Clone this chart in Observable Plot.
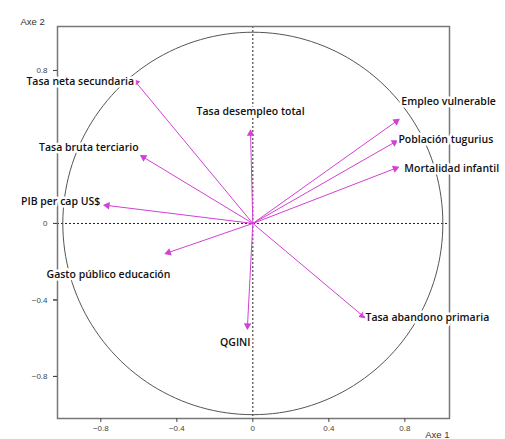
<!DOCTYPE html>
<html>
<head>
<meta charset="utf-8">
<script src="https://cdn.jsdelivr.net/npm/d3@7"></script>
<script src="https://cdn.jsdelivr.net/npm/@observablehq/plot@0.6"></script>
<style>
  html, body { margin: 0; padding: 0; background: #fff; }
  #chart svg { display: block; }
</style>
</head>
<body>
<div id="chart"></div>
<script>
// Variables (correlation circle, axes 1 and 2)
const variables = [
  "Tasa neta secundaria",
  "Tasa desempleo total",
  "Empleo vulnerable",
  "Población tugurius",
  "Mortalidad infantil",
  "Tasa bruta terciario",
  "PIB per cap US$",
  "Gasto público educación",
  "QGINI",
  "Tasa abandono primaria"
];
const axe1 = [-0.615, -0.012, 0.755, 0.745, 0.750, -0.575, -0.766, -0.444, -0.028, 0.577];
const axe2 = [ 0.738,  0.470, 0.534, 0.424, 0.288,  0.346,  0.094, -0.152, -0.534, -0.482];

const xTicks = [-0.8, -0.4, 0, 0.4, 0.8];
const yTicks = [-0.8, -0.4, 0, 0.4, 0.8];
// y tick labels that stay visible (0.4 is hidden under a variable label in the reference)
const yTickLabels = [-0.8, -0.4, 0, 0.8];
const tickLabel = d => d === 0 ? "0" : d3.format(".1f")(d);

// label placement (styles, not data)
const placement = [
  {anchor: "end",    dx: -2,  dy: -1},
  {anchor: "middle", dx: 0,   dy: -22},
  {anchor: "start",  dx: 5,   dy: -20},
  {anchor: "start",  dx: 4,   dy: -3},
  {anchor: "start",  dx: 9,   dy: 0},
  {anchor: "end",    dx: -5,  dy: -10},
  {anchor: "end",    dx: -7,  dy: -4},
  {anchor: "middle", dx: -60, dy: 22},
  {anchor: "end",    dx: 3,   dy: 17},
  {anchor: "start",  dx: 3,   dy: 2}
];

const idx = d3.range(variables.length);
const circle = d3.range(0, 361, 2).map(a => ({cx: Math.cos(a * Math.PI / 180), cy: Math.sin(a * Math.PI / 180)}));

const labelFont = "'Open Sans', 'DejaVu Sans', sans-serif";
const arrowColor = "#d43fd4";

const chart = Plot.plot({
  width: 505,
  height: 439,
  marginLeft: 57,
  marginRight: 56,
  marginTop: 26,
  marginBottom: 21,
  style: {background: "white", fontFamily: "'Liberation Sans', Arial, sans-serif", overflow: "visible"},
  x: {domain: [-1.028, 1.035]},
  y: {domain: [-1.02, 1.03]},
  marks: [
    Plot.ruleX([0], {stroke: "#222", strokeDasharray: "2,2", strokeWidth: 1}),
    Plot.ruleY([0], {stroke: "#222", strokeDasharray: "2,2", strokeWidth: 1}),
    Plot.line(circle, {x: "cx", y: "cy", stroke: "#555", strokeWidth: 1}),
    Plot.frame({stroke: "#777", strokeWidth: 1.5}),
    Plot.axisX({ticks: xTicks, tickFormat: tickLabel, tickSize: 4, tickPadding: 3, fontSize: 8, color: "#444", label: null}),
    Plot.axisY({ticks: yTicks, tickFormat: null, text: null, tickSize: 4, color: "#444", label: null}),
    Plot.axisY({ticks: yTickLabels, tickFormat: tickLabel, tickSize: 4, tickPadding: 6, fontSize: 8, color: "#444", label: null}),
    Plot.link(idx, {
      x1: () => 0, y1: () => 0,
      x2: i => axe1[i], y2: i => axe2[i],
      stroke: arrowColor, strokeWidth: 1
    }),
    Plot.dot(idx, {
      x: i => axe1[i], y: i => axe2[i],
      symbol: "triangle", r: 2.8, fill: arrowColor, stroke: "none",
      rotate: i => Math.atan2(axe1[i], axe2[i]) * 180 / Math.PI
    }),
    ...idx.map(i => Plot.text([i], {
      x: j => axe1[j], y: j => axe2[j], text: j => variables[j],
      textAnchor: placement[i].anchor, dx: placement[i].dx, dy: placement[i].dy,
      fontFamily: labelFont, fontSize: 10.5, fontWeight: 600, fill: "#111",
      stroke: "white", strokeWidth: 5
    })),
    Plot.text(["Axe 2"], {frameAnchor: "top-left", dx: -37, dy: -8, textAnchor: "start", fontSize: 9.5, fill: "#333"}),
    Plot.text(["Axe 1"], {frameAnchor: "bottom-right", dx: 0, dy: 19, textAnchor: "end", fontSize: 9.5, fill: "#333"})
  ]
});

document.getElementById("chart").appendChild(chart);
</script>
</body>
</html>
